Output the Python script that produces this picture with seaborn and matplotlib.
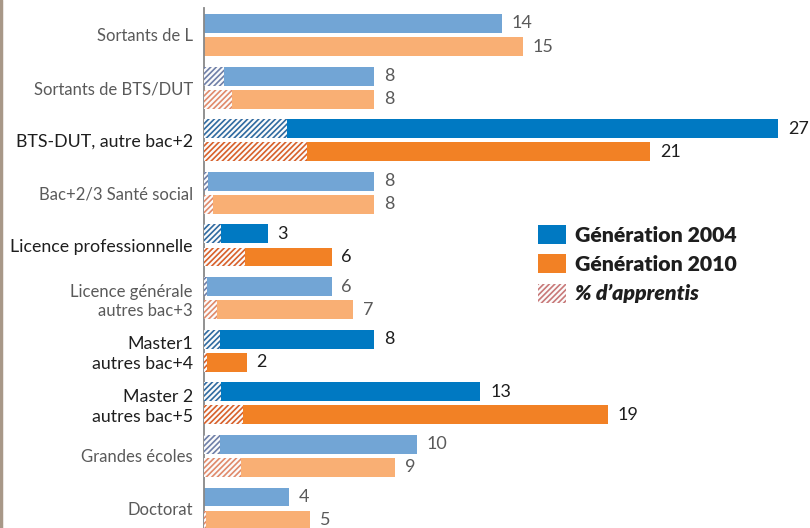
import matplotlib.pyplot as plt
import matplotlib.patches as mpatches
from matplotlib.lines import Line2D
import pandas as pd
import seaborn as sns

# Data
categories = ['Sortants de L', 'Sortants de BTS/DUT', 'BTS-DUT, autre bac+2',
              'Bac+2/3 Santé social', 'Licence professionnelle',
              'Licence générale\nautres bac+3', 'Master1\nautres bac+4',
              'Master 2\nautres bac+5', 'Grandes écoles', 'Doctorat']
emphasis = [False, False, True, False, True, False, True, True, False, False]
gen2004 = [14, 8, 27, 8, 3, 6, 8, 13, 10, 4]
gen2010 = [15, 8, 21, 8, 6, 7, 2, 19, 9, 5]
# share of apprentices, in the same units as the bars
appr2004 = [0, 0.95, 3.9, 0.2, 0.8, 0.15, 0.75, 0.8, 0.75, 0]
appr2010 = [0, 1.3, 4.85, 0.4, 1.95, 0.6, 0.15, 1.85, 1.75, 0.1]
generations = ['Génération 2004', 'Génération 2010']

df = pd.DataFrame({
    'cat': categories * 2,
    'gen': [generations[0]] * 10 + [generations[1]] * 10,
    'value': gen2004 + gen2010,
    'appr': appr2004 + appr2010,
})

# colours: [generation][emphasis]
bar_col = {0: {True: '#0079C2', False: '#72A5D5'},
           1: {True: '#F28125', False: '#F9AF74'}}
hatch_col = {0: {True: '#2f6aa0', False: '#6f7fa8'},
             1: {True: '#d8602a', False: '#e0896a'}}
dark_txt = '#1e1e1e'
light_txt = '#5a5a5a'

sns.set_style('white')
plt.rcParams['font.family'] = ['Lato', 'DejaVu Sans']
plt.rcParams['hatch.linewidth'] = 1.2

fig = plt.figure(figsize=(8.1, 5.28), dpi=100)
ax = fig.add_axes([204 / 810, 0, 606 / 810, 1])

sns.barplot(data=df, y='cat', x='value', hue='gen', orient='h', order=categories,
            hue_order=generations, width=0.876, gap=0.178, errorbar=None,
            legend=False, ax=ax, palette=['#0079C2', '#F28125'])
n_main = len(ax.patches)
sns.barplot(data=df, y='cat', x='appr', hue='gen', orient='h', order=categories,
            hue_order=generations, width=0.876, gap=0.178, errorbar=None,
            legend=False, ax=ax, palette=['#0079C2', '#F28125'])


def which(p):
    yc = p.get_y() + p.get_height() / 2
    i = int(round(yc))
    g = 1 if yc > i else 0
    return i, g


for k, p in enumerate(ax.patches):
    i, g = which(p)
    if k < n_main:
        p.set_facecolor(bar_col[g][emphasis[i]])
        p.set_edgecolor('none')
    else:
        p.set_facecolor('#fbfbfb')
        p.set_edgecolor(hatch_col[g][emphasis[i]])
        p.set_linewidth(0)
        p.set_hatch('//////')
        p.set_zorder(3)

# value labels
for i in range(len(categories)):
    for g, vals in enumerate([gen2004, gen2010]):
        off = -0.219 if g == 0 else 0.219
        ax.annotate(str(vals[i]), (vals[i], i + off), xytext=(7, 0),
                    textcoords='offset points', va='center', ha='left',
                    fontsize=13, color=dark_txt if emphasis[i] else light_txt)

ax.set_xlim(0, 606 / 21.26)
ax.set_ylim(9.37, -0.665)
ax.set_xticks([])
ax.set_yticks(range(len(categories)))
ax.set_yticklabels(categories)
for lab, em in zip(ax.get_yticklabels(), emphasis):
    lab.set_color(dark_txt if em else light_txt)
    lab.set_fontsize(12.8 if em else 12)
    lab.set_linespacing(1.3)
ax.tick_params(axis='y', length=0, pad=8)
ax.set_xlabel('')
ax.set_ylabel('')
for s in ['top', 'right', 'bottom']:
    ax.spines[s].set_visible(False)
ax.spines['left'].set_color('#888888')
ax.spines['left'].set_linewidth(1.3)
ax.spines['left'].set_bounds(9.37, -0.513)

# legend
handles = [mpatches.Patch(facecolor=bar_col[0][True], edgecolor='none'),
           mpatches.Patch(facecolor=bar_col[1][True], edgecolor='none'),
           mpatches.Patch(facecolor='#fbfbfb', edgecolor='#c87878', hatch='//////', linewidth=0)]
leg = fig.legend(handles, generations + ['% d’apprentis'], loc='upper left',
                 bbox_to_anchor=(538 / 810, 1 - 225 / 528), frameon=False,
                 prop={'size': 15.3, 'weight': 'heavy'}, handlelength=1.3,
                 handleheight=1.0, handletextpad=0.45, labelspacing=0.45,
                 borderpad=0, borderaxespad=0)
for t in leg.get_texts():
    t.set_color(dark_txt)
leg.get_texts()[2].set_fontstyle('italic')

# thin page border on the left
fig.add_artist(Line2D([0.0015, 0.0015], [0, 1], color='#a89888', lw=2.5,
                      transform=fig.transFigure))

fig.savefig('out.png', dpi=100)
